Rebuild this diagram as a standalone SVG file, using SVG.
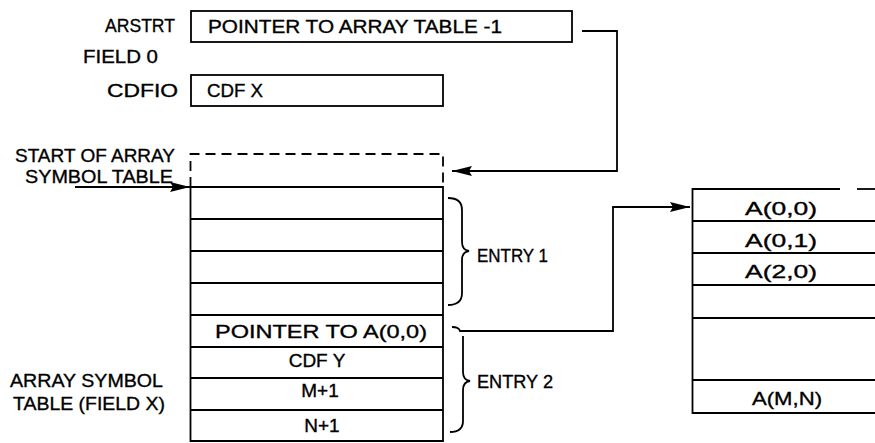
<svg xmlns="http://www.w3.org/2000/svg" width="875" height="443" viewBox="0 0 875 443">
<style>
  .ln { fill: none; stroke: #000; stroke-width: 1.8; }
  .dash { fill: none; stroke: #000; stroke-width: 1.8; stroke-dasharray: 10 6; }
  .t { font-family: "Liberation Sans", Arial, sans-serif; font-size: 19px; fill: #000; stroke: #000; stroke-width: 0.35; }
  .c { text-anchor: middle; }
</style>
<defs>
  <marker id="ah" markerUnits="userSpaceOnUse" markerWidth="22" markerHeight="12" refX="20" refY="5" orient="auto">
    <path d="M0,0 L20,5 L0,10 L3,5 z" fill="#000"/>
  </marker>
</defs>
<rect width="875" height="443" fill="#fff"/>

<g id="labels">
  <text class="t" x="105" y="32" textLength="70" lengthAdjust="spacingAndGlyphs">ARSTRT</text>
  <text class="t" x="83" y="63" textLength="75" lengthAdjust="spacingAndGlyphs">FIELD 0</text>
  <text class="t" x="107" y="97" textLength="71" lengthAdjust="spacingAndGlyphs">CDFIO</text>
  <text class="t" x="15" y="162" textLength="160" lengthAdjust="spacingAndGlyphs">START OF ARRAY</text>
  <text class="t" x="25" y="183" textLength="148" lengthAdjust="spacingAndGlyphs">SYMBOL TABLE</text>
  <text class="t" x="10" y="387" textLength="153" lengthAdjust="spacingAndGlyphs">ARRAY SYMBOL</text>
  <text class="t" x="13" y="410" textLength="152" lengthAdjust="spacingAndGlyphs">TABLE (FIELD X)</text>
</g>

<g id="arstrt">
  <rect class="ln" x="191" y="11" width="381" height="31"/>
  <text class="t" x="208" y="33" textLength="294" lengthAdjust="spacingAndGlyphs">POINTER TO ARRAY TABLE -1</text>
</g>

<g id="cdfio">
  <rect class="ln" x="191" y="75" width="252" height="31"/>
  <text class="t" x="207" y="97" textLength="56" lengthAdjust="spacingAndGlyphs">CDF X</text>
</g>

<g id="symbol-table">
  <path class="dash" d="M190.5,187 V154 H443 V187"/>
  <path class="ln" d="M190.5,187 V441 H443 V187 Z"/>
  <path class="ln" d="M190.5,219 H443 M190.5,251 H443 M190.5,283 H443 M190.5,315 H443 M190.5,347 H443 M190.5,378 H443 M190.5,410 H443"/>
  <text class="t" x="215" y="338" textLength="212" lengthAdjust="spacingAndGlyphs">POINTER TO A(0,0)</text>
  <text class="t c" x="317" y="367">CDF Y</text>
  <text class="t c" x="320" y="397">M+1</text>
  <text class="t c" x="322" y="432">N+1</text>
</g>

<g id="entry1">
  <path class="ln" d="M448,198 Q462,198 462,210 L462,242 Q462,250 469,251 Q462,252 462,260 L462,293 Q462,305 448,305"/>
  <text class="t" x="477" y="262" textLength="71" lengthAdjust="spacingAndGlyphs">ENTRY 1</text>
</g>

<g id="entry2">
  <path class="ln" d="M463,336 L463,372 Q463,380 470,381 Q463,382 463,390 L463,421 Q463,432 450,432"/>
  <text class="t" x="477" y="388" textLength="76" lengthAdjust="spacingAndGlyphs">ENTRY 2</text>
</g>

<g id="array-table">
  <path class="ln" d="M840,189 H692.5 V413 H875"/>
  <path class="ln" d="M857,189 H875"/>
  <path class="ln" d="M692.5,221 H875 M692.5,253 H875 M692.5,285 H875 M692.5,318 H875 M692.5,380 H875"/>
  <text class="t" x="745" y="215" textLength="72" lengthAdjust="spacingAndGlyphs">A(0,0)</text>
  <text class="t" x="745" y="247" textLength="72" lengthAdjust="spacingAndGlyphs">A(0,1)</text>
  <text class="t" x="745" y="278" textLength="72" lengthAdjust="spacingAndGlyphs">A(2,0)</text>
  <text class="t" x="752" y="405" textLength="70" lengthAdjust="spacingAndGlyphs">A(M,N)</text>
</g>

<g id="connectors">
  <path class="ln" d="M582,31 H617 V171 H452" marker-end="url(#ah)"/>
  <path class="ln" d="M75,187 H190" marker-end="url(#ah)"/>
  <path class="ln" d="M452,327 Q459,327 460,331 H613 V207 H690" marker-end="url(#ah)"/>
</g>
</svg>
